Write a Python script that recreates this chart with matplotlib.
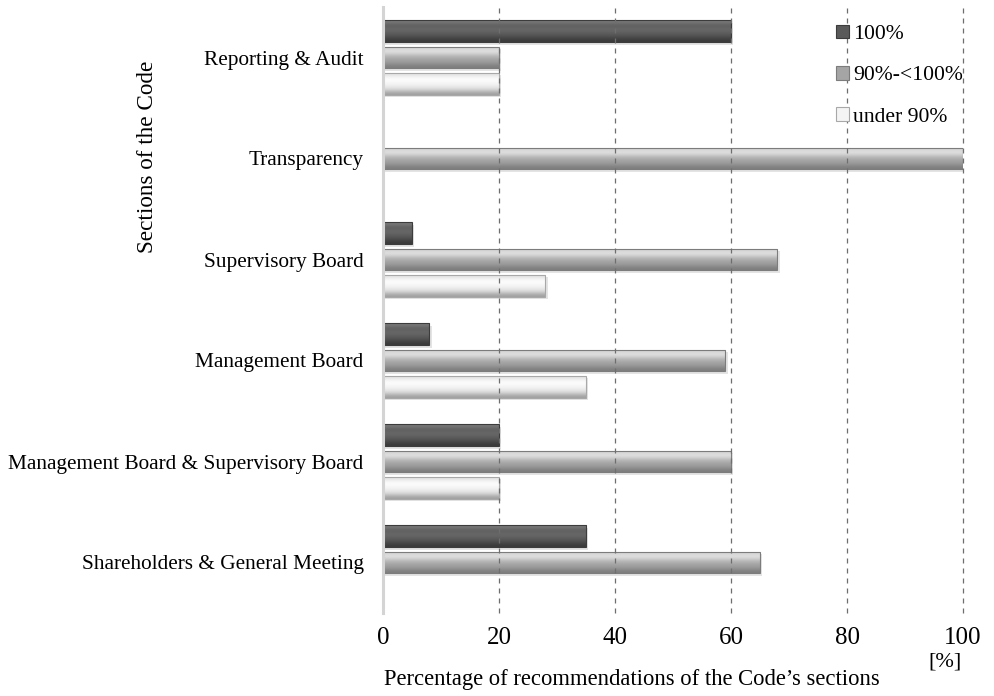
import numpy as np
import matplotlib
matplotlib.use('Agg')
import matplotlib.pyplot as plt
from matplotlib.patches import Patch

plt.rcParams['font.family'] = ['Liberation Serif', 'DejaVu Serif']

# sections, top to bottom as in the chart
sections = ['Reporting & Audit', 'Transparency', 'Supervisory Board',
            'Management Board', 'Management Board & Supervisory Board',
            'Shareholders & General Meeting']
series_names = ['100%', '90%-<100%', 'under 90%']
full = [60, 0, 5, 8, 20, 35]
high = [20, 100, 68, 59, 60, 65]
low = [20, 0, 28, 35, 20, 0]
xticks = [0, 20, 40, 60, 80, 100]

# gradient stops (bottom -> top) for the bevelled bar look
styles = [
    dict(base='#5a5a5a', edge='#3c3c3c',
         stops=['#3a3a3a', '#505050', '#5e5e5e', '#6a6a6a', '#5c5c5c', '#7a7a7a']),
    dict(base='#a5a5a5', edge='#7c7c7c',
         stops=['#7e7e7e', '#9a9a9a', '#a6a6a6', '#bdbdbd', '#e6e6e6', '#cfcfcf']),
    dict(base='#f4f4f4', edge='#a8a8a8',
         stops=['#a0a0a0', '#d8d8d8', '#eeeeee', '#f8f8f8', '#ffffff', '#e2e2e2']),
]


def shade(ax, bars, stops):
    cols = np.array([matplotlib.colors.to_rgb(c) for c in stops])
    grad = cols[:, None, :]
    for b in bars:
        w = b.get_width()
        if w <= 0:
            continue
        x0, y0, h = b.get_x(), b.get_y(), b.get_height()
        im = ax.imshow(grad, extent=[x0, x0 + w, y0, y0 + h], origin='lower',
                       aspect='auto', interpolation='bicubic', zorder=3)
        im.set_clip_path(b)


fig = plt.figure(figsize=(9.95, 6.96), dpi=100)
ax = fig.add_axes([383 / 995, 1 - 613 / 696, 580 / 995, 606 / 696])

ypos = np.arange(len(sections))[::-1]
offsets = [0.26, 0.0, -0.26]
height = 0.215

for vals, off, st in zip([full, high, low], offsets, styles):
    # soft shadow under each bar
    ax.barh(ypos + off - 0.025, vals, height=height, left=0.4,
            color='#e4e4e4', edgecolor='none', zorder=2)
    bars = ax.barh(ypos + off, vals, height=height, color=st['base'],
                   edgecolor=st['edge'], linewidth=0.8, zorder=4)
    for b in bars:
        b.set_facecolor('none')
    shade(ax, bars, st['stops'])

ax.set_xlim(0, 100)
ax.set_ylim(-0.5, 5.5)
ax.set_xticks(xticks)
ax.set_xticklabels([str(t) for t in xticks], fontsize=18)
ax.set_yticks(ypos)
ax.set_yticklabels(sections, fontsize=15.3)
ax.tick_params(axis='both', length=0)
ax.tick_params(axis='x', pad=10)
ax.tick_params(axis='y', pad=14)

for t in xticks[1:]:
    ax.axvline(t, color='#6e6e6e', linestyle=(0, (4, 4)), linewidth=0.9,
               zorder=5, clip_on=False)

for s in ['top', 'right', 'bottom']:
    ax.spines[s].set_visible(False)
ax.spines['left'].set_color('#d4d4d4')
ax.spines['left'].set_linewidth(2.2)
ax.spines['left'].set_zorder(5)

handles = [Patch(facecolor=st['base'], edgecolor=st['edge'], linewidth=0.8)
           for st in styles]
fig.legend(handles, series_names, loc='upper left',
           bbox_to_anchor=(827 / 995, 1 - 16 / 696), frameon=False,
           fontsize=15.6, handlelength=0.6, handleheight=0.6,
           handletextpad=0.2, labelspacing=1.0, borderaxespad=0)

fig.text(632 / 995, 1 - 680 / 696, 'Percentage of recommendations of the Code\u2019s sections',
         ha='center', va='center', fontsize=16.3)
fig.text(945 / 995, 1 - 662 / 696, '[%]', ha='center', va='center', fontsize=16)
fig.text(148 / 995, 1 - 157 / 696, 'Sections of the Code', rotation=90,
         ha='center', va='center', fontsize=16.7)

fig.savefig('out.png', dpi=100)
